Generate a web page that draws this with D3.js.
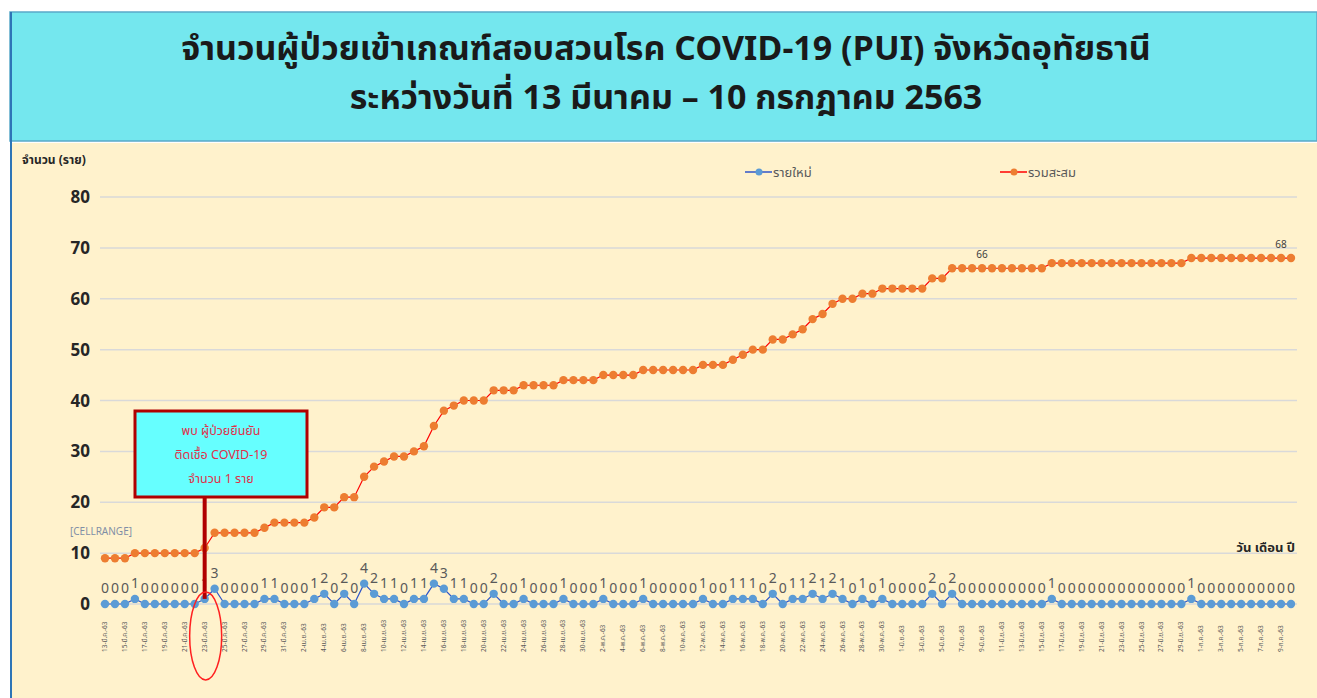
<html>
<head>
<meta charset="utf-8">
<script src="https://d3js.org/d3.v7.min.js"></script>
<style>
  body { margin: 0; background: #fff; }
  text { font-family: "Noto Sans Thai", "Noto Sans", "DejaVu Sans", sans-serif; }
</style>
</head>
<body>
<svg width="1317" height="698"></svg>
<script>
const titleLines = ["จำนวนผู้ป่วยเข้าเกณฑ์สอบสวนโรค  COVID-19 (PUI) จังหวัดอุทัยธานี",
                    "ระหว่างวันที่ 13 มีนาคม – 10 กรกฎาคม 2563"];
const seriesNames = ["รายใหม่", "รวมสะสม"];
const yTicks = [0, 10, 20, 30, 40, 50, 60, 70, 80];

// daily new PUI, 13 Mar - 10 Jul 2563 (120 days)
const newCases = [0,0,0,1,0,0,0,0,0,0, 1,3,0,0,0,0,1,1,0,0, 0,1,2,0,2,0,4,2,1,1,
                  0,1,1,4,3,1,1,0,0,2, 0,0,1,0,0,0,1,0,0,0, 1,0,0,0,1,0,0,0,0,0,
                  1,0,0,1,1,1,0,2,0,1, 1,2,1,2,1,0,1,0,1,0, 0,0,0,2,0,2,0,0,0,0,
                  0,0,0,0,0,1,0,0,0,0, 0,0,0,0,0,0,0,0,0,1, 0,0,0,0,0,0,0,0,0,0];
// cumulative
const totalCases = [9,9,9,10,10,10,10,10,10,10, 11,14,14,14,14,14,15,16,16,16, 16,17,19,19,21,21,25,27,28,29,
                    29,30,31,35,38,39,40,40,40,42, 42,42,43,43,43,43,44,44,44,44, 45,45,45,45,46,46,46,46,46,46,
                    47,47,47,48,49,50,50,52,52,53, 54,56,57,59,60,60,61,61,62,62, 62,62,62,64,64,66,66,66,66,66,
                    66,66,66,66,66,67,67,67,67,67, 67,67,67,67,67,67,67,67,67,68, 68,68,68,68,68,68,68,68,68,68];

const months = [["มี.ค.", 13, 31], ["เม.ย.", 1, 30], ["พ.ค.", 1, 31], ["มิ.ย.", 1, 30], ["ก.ค.", 1, 10]];
const dates = [];
months.forEach(m => { for (let d = m[1]; d <= m[2]; d++) dates.push(d + "-" + m[0] + "-63"); });

let svg = d3.select("svg");

// title box
svg.append("rect").attr("x", 10).attr("y", 12).attr("width", 1307).attr("height", 129)
   .attr("fill", "#74E7EE").attr("stroke", "#5aa9c9").attr("stroke-width", 1.5);
titleLines.forEach((t, i) => {
  svg.append("text").attr("x", 666).attr("y", 60 + i * 49)
     .attr("text-anchor", "middle").attr("font-size", 34).attr("font-weight", "bold")
     .attr("fill", "#1a1a1a").text(t);
});

// plot area
svg.append("rect").attr("x", 11).attr("y", 143).attr("width", 1306).attr("height", 555)
   .attr("fill", "#FFF2CC");
svg.append("line").attr("x1", 11).attr("x2", 11).attr("y1", 12).attr("y2", 698)
   .attr("stroke", "#2e75b6").attr("stroke-width", 2);

let xScale = d3.scalePoint().domain(d3.range(newCases.length)).range([105, 1291]),
    yScale = d3.scaleLinear().domain([0, 80]).range([604, 197]);

let g = svg.append("g");

// grid + y ticks
g.selectAll(".grid").data(yTicks).enter().append("line")
 .attr("x1", 100).attr("x2", 1297)
 .attr("y1", d => yScale(d)).attr("y2", d => yScale(d))
 .attr("stroke", "#d9d9d9").attr("stroke-width", 1.5);
g.selectAll(".ytick").data(yTicks).enter().append("text")
 .attr("x", 90).attr("y", d => yScale(d) + 6)
 .attr("text-anchor", "end").attr("font-size", 17).attr("font-weight", "bold").attr("fill", "#262626")
 .text(d => d);

svg.append("text").attr("x", 22).attr("y", 164).attr("font-size", 12).attr("font-weight", "bold")
   .attr("fill", "#262626").text("จำนวน (ราย)");
svg.append("text").attr("x", 1295).attr("y", 552).attr("text-anchor", "end").attr("font-size", 13)
   .attr("font-weight", "bold").attr("fill", "#262626").text("วัน เดือน ปี");

// x labels (every other day)
g.selectAll(".xlab").data(dates.filter((d, i) => i % 2 == 0)).enter().append("text")
 .attr("transform", (d, i) => "translate(" + (xScale(i * 2) + 2) + ",652) rotate(-90)")
 .attr("font-size", 6.5).attr("fill", "#595959").text(d => d);

// cumulative line
let line = d3.line().x((d, i) => xScale(i)).y(d => yScale(d));
g.append("path").datum(totalCases).attr("d", line).attr("fill", "none")
 .attr("stroke", "#FF0000").attr("stroke-width", 1.2);
g.selectAll(".cum").data(totalCases).enter().append("circle")
 .attr("cx", (d, i) => xScale(i)).attr("cy", d => yScale(d)).attr("r", 4.2).attr("fill", "#ED7D31");

// daily line
g.append("path").datum(newCases).attr("d", line).attr("fill", "none")
 .attr("stroke", "#2F55C8").attr("stroke-width", 1.2);
g.selectAll(".daily").data(newCases).enter().append("circle")
 .attr("cx", (d, i) => xScale(i)).attr("cy", d => yScale(d)).attr("r", 4.2).attr("fill", "#5B9BD5");
g.selectAll(".dlab").data(newCases).enter().append("text")
 .attr("x", (d, i) => xScale(i)).attr("y", d => yScale(d) - 11)
 .attr("text-anchor", "middle").attr("font-size", 14).attr("fill", "#595959")
 .text(d => d);

// cumulative labels
g.append("text").attr("x", xScale(88)).attr("y", yScale(66) - 10).attr("text-anchor", "middle")
 .attr("font-size", 10).attr("fill", "#404040").text(totalCases[88]);
g.append("text").attr("x", xScale(119) - 10).attr("y", yScale(68) - 10).attr("text-anchor", "middle")
 .attr("font-size", 10).attr("fill", "#404040").text(totalCases[119]);
g.append("text").attr("x", 70).attr("y", yScale(totalCases[0]) - 23)
 .attr("font-size", 10).attr("fill", "#7f8fa6").text("[CELLRANGE]");

// legend
[[745, "#2F55C8", "#5B9BD5"], [1000, "#FF0000", "#ED7D31"]].forEach((l, i) => {
  svg.append("line").attr("x1", l[0]).attr("x2", l[0] + 27).attr("y1", 172).attr("y2", 172)
     .attr("stroke", l[1]).attr("stroke-width", 1.5);
  svg.append("circle").attr("cx", l[0] + 14).attr("cy", 172).attr("r", 3.5).attr("fill", l[2]);
  svg.append("text").attr("x", l[0] + 28).attr("y", 177).attr("font-size", 13)
     .attr("fill", "#595959").text(seriesNames[i]);
});

// annotation: first confirmed case
let ax = xScale(10);
svg.append("line").attr("x1", ax).attr("x2", ax).attr("y1", 497).attr("y2", yScale(newCases[10]))
   .attr("stroke", "#B00000").attr("stroke-width", 4);
svg.append("rect").attr("x", 135).attr("y", 411).attr("width", 172).attr("height", 86)
   .attr("fill", "#66FFFF").attr("stroke", "#B00000").attr("stroke-width", 3);
["พบ ผู้ป่วยยืนยัน", "ติดเชื้อ COVID-19", "จำนวน 1 ราย"].forEach((t, i) => {
  svg.append("text").attr("x", 221).attr("y", 435 + i * 24).attr("text-anchor", "middle")
     .attr("font-size", 12.5).attr("fill", "#E0304A").text(t);
});
svg.append("ellipse").attr("cx", ax + 1).attr("cy", 636).attr("rx", 16).attr("ry", 44)
   .attr("fill", "none").attr("stroke", "#FF2020").attr("stroke-width", 1.5);
</script>
</body>
</html>
